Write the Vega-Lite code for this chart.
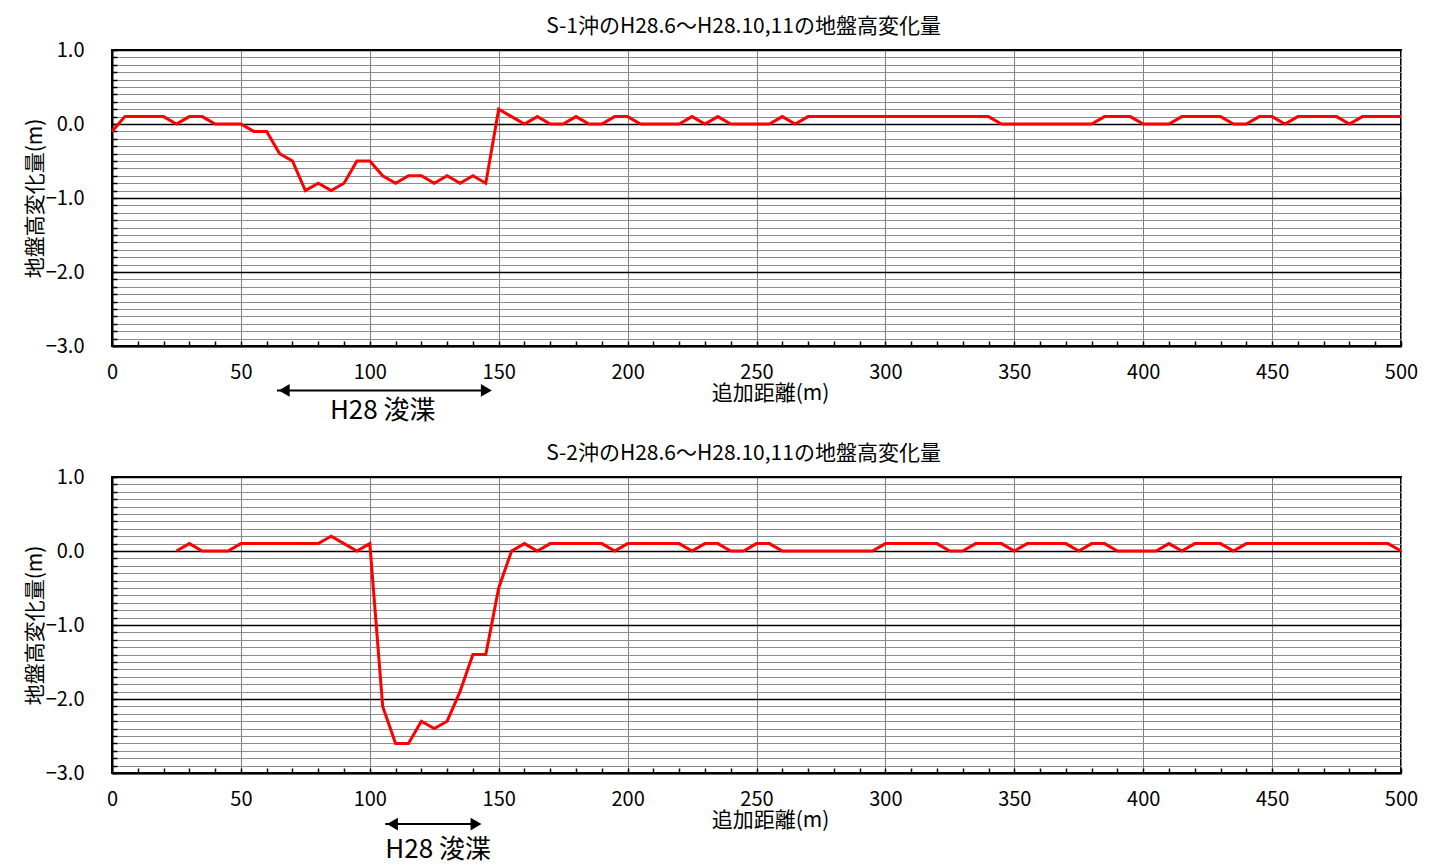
{
  "$schema": "https://vega.github.io/schema/vega-lite/v6.json",
  "background": "white",
  "padding": {"left": 23, "top": 15, "right": 20, "bottom": 0},
  "spacing": 16,
  "config": {
    "font": "Noto Sans CJK JP",
    "view": {"stroke": "#000000", "strokeWidth": 2},
    "axis": {
      "labelFont": "Noto Sans CJK JP",
      "labelFontSize": 20,
      "labelColor": "#000000",
      "titleFont": "Noto Sans CJK JP",
      "titleFontSize": 21,
      "titleFontWeight": "normal",
      "titleColor": "#000000",
      "domainColor": "#000000",
      "domainWidth": 2,
      "tickColor": "#000000",
      "tickWidth": 1.5,
      "labelOverlap": false,
      "labelFlush": false
    },
    "title": {"font": "Noto Sans CJK JP", "fontSize": 21, "fontWeight": "normal", "color": "#000000", "offset": 3, "dx": -13}
  },
  "datasets": {
    "s1": [
      {"d": 0, "h": -0.1}, {"d": 5, "h": 0.1}, {"d": 10, "h": 0.1}, {"d": 15, "h": 0.1}, {"d": 20, "h": 0.1},
      {"d": 25, "h": 0.0}, {"d": 30, "h": 0.1}, {"d": 35, "h": 0.1}, {"d": 40, "h": 0.0}, {"d": 45, "h": 0.0},
      {"d": 50, "h": 0.0}, {"d": 55, "h": -0.1}, {"d": 60, "h": -0.1}, {"d": 65, "h": -0.4}, {"d": 70, "h": -0.5},
      {"d": 75, "h": -0.9}, {"d": 80, "h": -0.8}, {"d": 85, "h": -0.9}, {"d": 90, "h": -0.8}, {"d": 95, "h": -0.5},
      {"d": 100, "h": -0.5}, {"d": 105, "h": -0.7}, {"d": 110, "h": -0.8}, {"d": 115, "h": -0.7}, {"d": 120, "h": -0.7},
      {"d": 125, "h": -0.8}, {"d": 130, "h": -0.7}, {"d": 135, "h": -0.8}, {"d": 140, "h": -0.7}, {"d": 145, "h": -0.8},
      {"d": 150, "h": 0.2}, {"d": 155, "h": 0.1}, {"d": 160, "h": 0.0}, {"d": 165, "h": 0.1}, {"d": 170, "h": 0.0},
      {"d": 175, "h": 0.0}, {"d": 180, "h": 0.1}, {"d": 185, "h": 0.0}, {"d": 190, "h": 0.0}, {"d": 195, "h": 0.1},
      {"d": 200, "h": 0.1}, {"d": 205, "h": 0.0}, {"d": 210, "h": 0.0}, {"d": 215, "h": 0.0}, {"d": 220, "h": 0.0},
      {"d": 225, "h": 0.1}, {"d": 230, "h": 0.0}, {"d": 235, "h": 0.1}, {"d": 240, "h": 0.0}, {"d": 245, "h": 0.0},
      {"d": 250, "h": 0.0}, {"d": 255, "h": 0.0}, {"d": 260, "h": 0.1}, {"d": 265, "h": 0.0}, {"d": 270, "h": 0.1},
      {"d": 275, "h": 0.1}, {"d": 280, "h": 0.1}, {"d": 285, "h": 0.1}, {"d": 290, "h": 0.1}, {"d": 295, "h": 0.1},
      {"d": 300, "h": 0.1}, {"d": 305, "h": 0.1}, {"d": 310, "h": 0.1}, {"d": 315, "h": 0.1}, {"d": 320, "h": 0.1},
      {"d": 325, "h": 0.1}, {"d": 330, "h": 0.1}, {"d": 335, "h": 0.1}, {"d": 340, "h": 0.1}, {"d": 345, "h": 0.0},
      {"d": 350, "h": 0.0}, {"d": 355, "h": 0.0}, {"d": 360, "h": 0.0}, {"d": 365, "h": 0.0}, {"d": 370, "h": 0.0},
      {"d": 375, "h": 0.0}, {"d": 380, "h": 0.0}, {"d": 385, "h": 0.1}, {"d": 390, "h": 0.1}, {"d": 395, "h": 0.1},
      {"d": 400, "h": 0.0}, {"d": 405, "h": 0.0}, {"d": 410, "h": 0.0}, {"d": 415, "h": 0.1}, {"d": 420, "h": 0.1},
      {"d": 425, "h": 0.1}, {"d": 430, "h": 0.1}, {"d": 435, "h": 0.0}, {"d": 440, "h": 0.0}, {"d": 445, "h": 0.1},
      {"d": 450, "h": 0.1}, {"d": 455, "h": 0.0}, {"d": 460, "h": 0.1}, {"d": 465, "h": 0.1}, {"d": 470, "h": 0.1},
      {"d": 475, "h": 0.1}, {"d": 480, "h": 0.0}, {"d": 485, "h": 0.1}, {"d": 490, "h": 0.1}, {"d": 495, "h": 0.1},
      {"d": 500, "h": 0.1}
    ],
    "s2": [
      {"d": 25, "h": 0.0}, {"d": 30, "h": 0.1}, {"d": 35, "h": 0.0}, {"d": 40, "h": 0.0}, {"d": 45, "h": 0.0},
      {"d": 50, "h": 0.1}, {"d": 55, "h": 0.1}, {"d": 60, "h": 0.1}, {"d": 65, "h": 0.1}, {"d": 70, "h": 0.1},
      {"d": 75, "h": 0.1}, {"d": 80, "h": 0.1}, {"d": 85, "h": 0.2}, {"d": 90, "h": 0.1}, {"d": 95, "h": 0.0},
      {"d": 100, "h": 0.1}, {"d": 105, "h": -2.1}, {"d": 110, "h": -2.6}, {"d": 115, "h": -2.6}, {"d": 120, "h": -2.3},
      {"d": 125, "h": -2.4}, {"d": 130, "h": -2.3}, {"d": 135, "h": -1.9}, {"d": 140, "h": -1.4}, {"d": 145, "h": -1.4},
      {"d": 150, "h": -0.5}, {"d": 155, "h": 0.0}, {"d": 160, "h": 0.1}, {"d": 165, "h": 0.0}, {"d": 170, "h": 0.1},
      {"d": 175, "h": 0.1}, {"d": 180, "h": 0.1}, {"d": 185, "h": 0.1}, {"d": 190, "h": 0.1}, {"d": 195, "h": 0.0},
      {"d": 200, "h": 0.1}, {"d": 205, "h": 0.1}, {"d": 210, "h": 0.1}, {"d": 215, "h": 0.1}, {"d": 220, "h": 0.1},
      {"d": 225, "h": 0.0}, {"d": 230, "h": 0.1}, {"d": 235, "h": 0.1}, {"d": 240, "h": 0.0}, {"d": 245, "h": 0.0},
      {"d": 250, "h": 0.1}, {"d": 255, "h": 0.1}, {"d": 260, "h": 0.0}, {"d": 265, "h": 0.0}, {"d": 270, "h": 0.0},
      {"d": 275, "h": 0.0}, {"d": 280, "h": 0.0}, {"d": 285, "h": 0.0}, {"d": 290, "h": 0.0}, {"d": 295, "h": 0.0},
      {"d": 300, "h": 0.1}, {"d": 305, "h": 0.1}, {"d": 310, "h": 0.1}, {"d": 315, "h": 0.1}, {"d": 320, "h": 0.1},
      {"d": 325, "h": 0.0}, {"d": 330, "h": 0.0}, {"d": 335, "h": 0.1}, {"d": 340, "h": 0.1}, {"d": 345, "h": 0.1},
      {"d": 350, "h": 0.0}, {"d": 355, "h": 0.1}, {"d": 360, "h": 0.1}, {"d": 365, "h": 0.1}, {"d": 370, "h": 0.1},
      {"d": 375, "h": 0.0}, {"d": 380, "h": 0.1}, {"d": 385, "h": 0.1}, {"d": 390, "h": 0.0}, {"d": 395, "h": 0.0},
      {"d": 400, "h": 0.0}, {"d": 405, "h": 0.0}, {"d": 410, "h": 0.1}, {"d": 415, "h": 0.0}, {"d": 420, "h": 0.1},
      {"d": 425, "h": 0.1}, {"d": 430, "h": 0.1}, {"d": 435, "h": 0.0}, {"d": 440, "h": 0.1}, {"d": 445, "h": 0.1},
      {"d": 450, "h": 0.1}, {"d": 455, "h": 0.1}, {"d": 460, "h": 0.1}, {"d": 465, "h": 0.1}, {"d": 470, "h": 0.1},
      {"d": 475, "h": 0.1}, {"d": 480, "h": 0.1}, {"d": 485, "h": 0.1}, {"d": 490, "h": 0.1}, {"d": 495, "h": 0.1},
      {"d": 500, "h": 0.0}
    ],
    "ann1": [{"x1": 64, "x2": 148, "a1": 66.8, "a2": 145.2, "y": -3.6, "xl": 105, "yl": -3.88, "label": "H28 浚渫"}],
    "ann2": [{"x1": 106, "x2": 144, "a1": 108.8, "a2": 141.2, "y": -3.69, "xl": 126.5, "yl": -4.04, "label": "H28 浚渫"}]
  },
  "vconcat": [
    {
      "width": 1289,
      "height": 296,
      "title": {"text": "S-1沖のH28.6～H28.10,11の地盤高変化量"},
      "layer": [
        {
          "data": {"name": "s1"},
          "mark": {"type": "line", "color": "#ff0000", "strokeWidth": 3},
          "encoding": {
            "x": {
              "field": "d", "type": "quantitative",
              "scale": {"domain": [0, 500], "nice": false, "zero": false},
              "axis": {
                "title": "追加距離(m)",
                "titleX": 658,
                "values": [0,10,20,30,40,50,60,70,80,90,100,110,120,130,140,150,160,170,180,190,200,210,220,230,240,250,260,270,280,290,300,310,320,330,340,350,360,370,380,390,400,410,420,430,440,450,460,470,480,490,500],
                "tickCount": 200,
                "labelExpr": "datum.value % 50 === 0 ? datum.label : ''",
                "labelPadding": 21,
                "tickSize": -5,
                "titlePadding": 0,
                "grid": true,
                "gridColor": "#808080",
                "gridWidth": 1,
                "gridOpacity": {"condition": {"test": "datum.value % 50 === 0", "value": 1}, "value": 0}
              }
            },
            "y": {
              "field": "h", "type": "quantitative",
              "scale": {"domain": [-3, 1], "nice": false, "zero": false},
              "axis": {
                "title": "地盤高変化量(m)",
                "values": [-3,-2.9,-2.8,-2.7,-2.6,-2.5,-2.4,-2.3,-2.2,-2.1,-2,-1.9,-1.8,-1.7,-1.6,-1.5,-1.4,-1.3,-1.2,-1.1,-1,-0.9,-0.8,-0.7,-0.6,-0.5,-0.4,-0.3,-0.2,-0.1,0,0.1,0.2,0.3,0.4,0.5,0.6,0.7,0.8,0.9,1],
                "tickCount": 200,
                "labelExpr": "abs(datum.value - round(datum.value)) < 0.001 ? format(datum.value, '.1f') : ''",
                "labelPadding": 33,
                "tickSize": -5,
                "titlePadding": 0,
                "grid": true,
                "gridColor": {"condition": {"test": "abs(datum.value - round(datum.value)) < 0.001", "value": "#000000"}, "value": "#8c8c8c"},
                "gridWidth": {"condition": {"test": "abs(datum.value - round(datum.value)) < 0.001", "value": 1.6}, "value": 1}
              }
            }
          }
        },
        {
          "data": {"name": "ann1"},
          "mark": {"type": "rule", "clip": false, "color": "#000000", "strokeWidth": 2},
          "encoding": {"x": {"field": "x1", "type": "quantitative"}, "x2": {"field": "a2"}, "y": {"field": "y", "type": "quantitative"}}
        },
        {
          "data": {"name": "ann1"},
          "mark": {"type": "point", "clip": false, "shape": "triangle-left", "filled": true, "color": "#000000", "opacity": 1, "size": 160},
          "encoding": {"x": {"field": "a1", "type": "quantitative"}, "y": {"field": "y", "type": "quantitative"}}
        },
        {
          "data": {"name": "ann1"},
          "mark": {"type": "point", "clip": false, "shape": "triangle-right", "filled": true, "color": "#000000", "opacity": 1, "size": 160},
          "encoding": {"x": {"field": "a2", "type": "quantitative"}, "y": {"field": "y", "type": "quantitative"}}
        },
        {
          "data": {"name": "ann1"},
          "mark": {"type": "text", "clip": false, "fontSize": 26, "color": "#000000", "align": "center", "baseline": "middle"},
          "encoding": {"x": {"field": "xl", "type": "quantitative"}, "y": {"field": "yl", "type": "quantitative"}, "text": {"field": "label"}}
        }
      ]
    },
    {
      "width": 1289,
      "height": 296,
      "title": {"text": "S-2沖のH28.6～H28.10,11の地盤高変化量"},
      "layer": [
        {
          "data": {"name": "s2"},
          "mark": {"type": "line", "color": "#ff0000", "strokeWidth": 3},
          "encoding": {
            "x": {
              "field": "d", "type": "quantitative",
              "scale": {"domain": [0, 500], "nice": false, "zero": false},
              "axis": {
                "title": "追加距離(m)",
                "titleX": 658,
                "values": [0,10,20,30,40,50,60,70,80,90,100,110,120,130,140,150,160,170,180,190,200,210,220,230,240,250,260,270,280,290,300,310,320,330,340,350,360,370,380,390,400,410,420,430,440,450,460,470,480,490,500],
                "tickCount": 200,
                "labelExpr": "datum.value % 50 === 0 ? datum.label : ''",
                "labelPadding": 21,
                "tickSize": -5,
                "titlePadding": 0,
                "grid": true,
                "gridColor": "#808080",
                "gridWidth": 1,
                "gridOpacity": {"condition": {"test": "datum.value % 50 === 0", "value": 1}, "value": 0}
              }
            },
            "y": {
              "field": "h", "type": "quantitative",
              "scale": {"domain": [-3, 1], "nice": false, "zero": false},
              "axis": {
                "title": "地盤高変化量(m)",
                "values": [-3,-2.9,-2.8,-2.7,-2.6,-2.5,-2.4,-2.3,-2.2,-2.1,-2,-1.9,-1.8,-1.7,-1.6,-1.5,-1.4,-1.3,-1.2,-1.1,-1,-0.9,-0.8,-0.7,-0.6,-0.5,-0.4,-0.3,-0.2,-0.1,0,0.1,0.2,0.3,0.4,0.5,0.6,0.7,0.8,0.9,1],
                "tickCount": 200,
                "labelExpr": "abs(datum.value - round(datum.value)) < 0.001 ? format(datum.value, '.1f') : ''",
                "labelPadding": 33,
                "tickSize": -5,
                "titlePadding": 0,
                "grid": true,
                "gridColor": {"condition": {"test": "abs(datum.value - round(datum.value)) < 0.001", "value": "#000000"}, "value": "#8c8c8c"},
                "gridWidth": {"condition": {"test": "abs(datum.value - round(datum.value)) < 0.001", "value": 1.6}, "value": 1}
              }
            }
          }
        },
        {
          "data": {"name": "ann2"},
          "mark": {"type": "rule", "clip": false, "color": "#000000", "strokeWidth": 2},
          "encoding": {"x": {"field": "x1", "type": "quantitative"}, "x2": {"field": "a2"}, "y": {"field": "y", "type": "quantitative"}}
        },
        {
          "data": {"name": "ann2"},
          "mark": {"type": "point", "clip": false, "shape": "triangle-left", "filled": true, "color": "#000000", "opacity": 1, "size": 160},
          "encoding": {"x": {"field": "a1", "type": "quantitative"}, "y": {"field": "y", "type": "quantitative"}}
        },
        {
          "data": {"name": "ann2"},
          "mark": {"type": "point", "clip": false, "shape": "triangle-right", "filled": true, "color": "#000000", "opacity": 1, "size": 160},
          "encoding": {"x": {"field": "a2", "type": "quantitative"}, "y": {"field": "y", "type": "quantitative"}}
        },
        {
          "data": {"name": "ann2"},
          "mark": {"type": "text", "clip": false, "fontSize": 26, "color": "#000000", "align": "center", "baseline": "middle"},
          "encoding": {"x": {"field": "xl", "type": "quantitative"}, "y": {"field": "yl", "type": "quantitative"}, "text": {"field": "label"}}
        }
      ]
    }
  ]
}
